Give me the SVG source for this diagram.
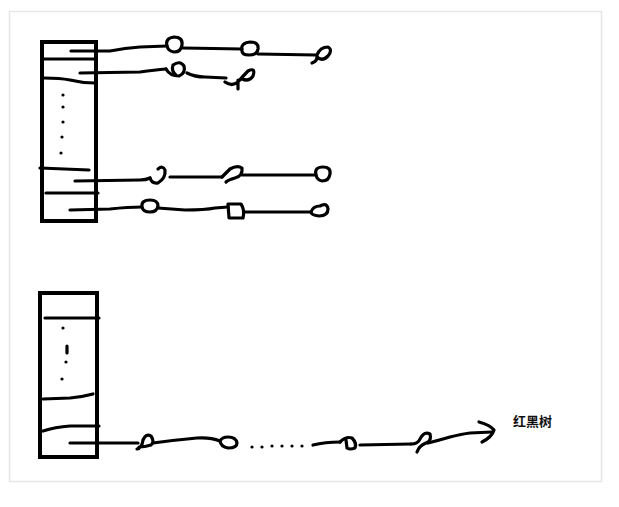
<svg xmlns="http://www.w3.org/2000/svg" width="619" height="507" viewBox="0 0 619 507">
<style>
.ink{fill:none;stroke:#000;stroke-width:3.2;stroke-linecap:round;stroke-linejoin:round}
.box{fill:none;stroke:#000;stroke-width:4}
.dot{fill:#000}
.lbl{font-family:"Noto Sans CJK SC","Noto Sans",sans-serif;font-size:13px;font-weight:bold;fill:#111}
</style>
<rect x="9.5" y="11.5" width="592" height="470" fill="#fff" stroke="#e6e6e6" stroke-width="1.5"/>

<g id="table1">
  <rect class="box" x="42" y="42" width="54" height="179"/>
  <path class="ink" d="M42 59 L96 59"/>
  <path class="ink" d="M44 78 Q60 78 70 80 Q82 83 95 83"/>
  <circle class="dot" cx="63" cy="95" r="1.6"/>
  <circle class="dot" cx="63" cy="107" r="1.6"/>
  <circle class="dot" cx="63" cy="122" r="1.6"/>
  <circle class="dot" cx="62" cy="137" r="1.6"/>
  <circle class="dot" cx="61" cy="153" r="1.6"/>
  <path class="ink" d="M40 168 L89 170"/>
  <path class="ink" d="M46 193 L98 193"/>
</g>

<g id="table2">
  <rect class="box" x="40" y="293" width="57" height="164"/>
  <path class="ink" d="M45 318 L99 318"/>
  <circle class="dot" cx="63" cy="328" r="1.6"/>
  <path class="ink" d="M67 346 L67 353"/>
  <circle class="dot" cx="66" cy="362" r="1.6"/>
  <circle class="dot" cx="62" cy="379" r="1.6"/>
  <path class="ink" d="M43 399 L70 398 Q82 397 93 394"/>
  <path class="ink" d="M43 431 Q55 427 70 426 L99 426"/>
</g>

<g id="connectors">
  <path class="ink" d="M71 51 L110 51 Q125 48 140 47 L167 46"/>
  <path class="ink" d="M183 48 L242 49"/>
  <path class="ink" d="M258 54 L316 55"/>
  <path class="ink" d="M80 73 L140 72 Q155 70 166 69"/>
  <path class="ink" d="M187 73 Q195 77 205 77 L226 78"/>
  <path class="ink" d="M75 181 L140 180 Q146 180 150 178"/>
  <path class="ink" d="M170 177 L222 177"/>
  <path class="ink" d="M242 175 L316 175"/>
  <path class="ink" d="M70 210 L110 209 Q128 207 142 207"/>
  <path class="ink" d="M158 208 L185 210 Q205 210 215 208 L228 207"/>
  <path class="ink" d="M244 212 L311 212"/>
  <path class="ink" d="M70 443 L138 443"/>
  <path class="ink" d="M153 443 Q175 440 197 438 Q210 437 220 441"/>
  <circle class="dot" cx="252" cy="447" r="1.6"/>
  <circle class="dot" cx="262" cy="447" r="1.6"/>
  <circle class="dot" cx="272" cy="446" r="1.6"/>
  <circle class="dot" cx="282" cy="446" r="1.6"/>
  <circle class="dot" cx="292" cy="446" r="1.6"/>
  <circle class="dot" cx="302" cy="446" r="1.6"/>
  <path class="ink" d="M313 445 Q325 442 340 442"/>
  <path class="ink" d="M360 445 L411 444"/>
  <path class="ink" d="M428 443 Q440 440 450 437 Q462 434 470 433 L492 432"/>
  <path class="ink" d="M479 422 Q490 425 494 430 Q492 437 482 442"/>
</g>

<g id="n1a"><path class="ink" d="M167 46 Q165 38 174 37 Q183 37 182 45 Q181 52 174 52 Q168 51 167 46 Z"/></g>
<g id="n1b"><path class="ink" d="M242 51 Q240 43 250 42 Q259 42 258 49 Q257 55 249 55 Q242 55 242 51 Z"/></g>
<g id="n1c"><path class="ink" d="M312 63 Q318 61 317 55 Q320 47 328 47 Q333 50 328 56 Q322 62 317 57"/></g>
<g id="n2a"><path class="ink" d="M166 69 Q170 76 179 76 Q186 73 184 66 Q180 60 173 65 Q171 71 176 75"/></g>
<g id="n2b"><path class="ink" d="M225 82 Q232 87 238 82 Q243 76 248 71 Q256 67 253 76 Q249 82 242 79 M238 80 L238 89"/></g>
<g id="n3a"><path class="ink" d="M150 178 Q152 184 158 183 Q166 178 165 170 Q163 165 158 169"/></g>
<g id="n3b"><path class="ink" d="M222 177 Q226 173 230 169 Q237 165 242 168 Q243 176 235 178 Q228 180 226 182"/></g>
<g id="n3c"><path class="ink" d="M316 175 Q314 167 323 167 Q331 167 330 174 Q329 181 322 181 Q317 180 316 175 Z"/></g>
<g id="n4a"><path class="ink" d="M142 207 Q141 200 150 200 Q158 200 158 206 Q157 212 150 212 Q143 212 142 207 Z"/></g>
<g id="n4b"><path class="ink" d="M228 204 L241 204 Q245 210 243 218 L229 218 Z"/></g>
<g id="n4c"><path class="ink" d="M311 212 Q313 206 320 206 Q327 202 328 209 Q328 216 319 216 Q311 215 311 212 Z"/></g>
<g id="n5a"><path class="ink" d="M137 449 Q142 448 143 440 Q146 433 151 436 Q155 442 151 445 Q145 447 139 447"/></g>
<g id="n5b"><path class="ink" d="M220 441 Q221 447 228 448 Q237 448 237 443 Q236 437 228 437 Q222 437 220 441 Z"/></g>
<g id="n5c"><path class="ink" d="M340 442 Q346 436 352 438 Q357 443 355 448 Q350 450 347 448 L346 440"/></g>
<g id="n5d"><path class="ink" d="M411 444 Q418 444 420 439 Q424 431 430 434 Q432 441 426 443 Q419 446 417 452"/></g>

<g id="label"><text class="lbl" x="513" y="426">红黑树</text></g>
</svg>
